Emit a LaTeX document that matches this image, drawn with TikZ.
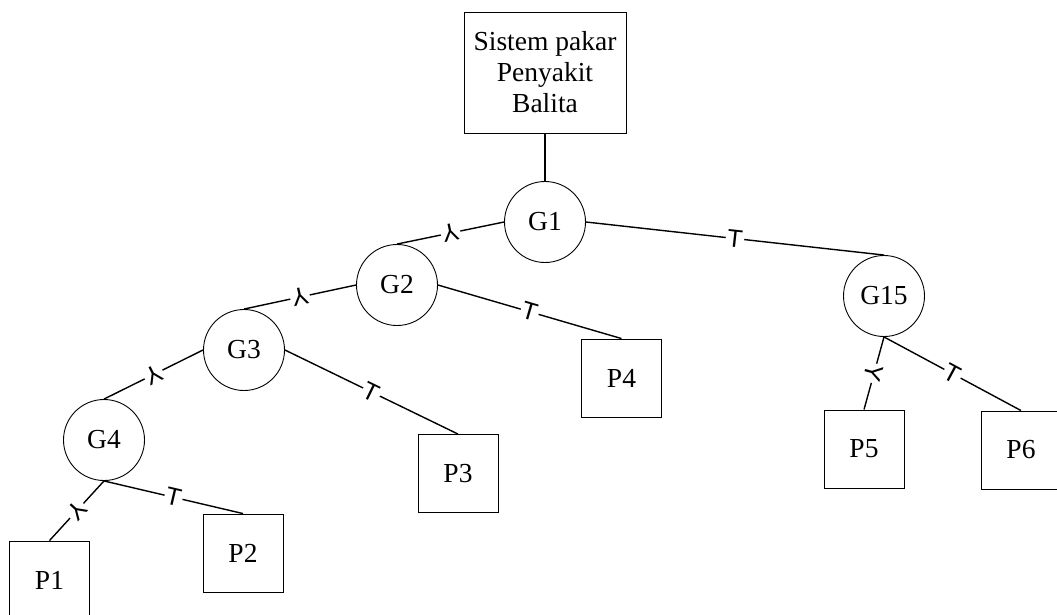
\documentclass[tikz,border=0pt]{standalone}
\usepackage{fontspec}
\setmainfont{Liberation Serif}
\newfontfamily\labelfont{Liberation Sans}
\begin{document}
\begin{tikzpicture}[x=1pt,y=-1pt,
  every node/.style={font=\fontsize{27.5}{31}\selectfont},
  box/.style={draw, line width=0.9pt, minimum width=80pt, minimum height=78pt, inner sep=0pt},
  goal/.style={draw, circle, line width=0.9pt, minimum size=81pt, inner sep=0pt},
  link/.style={line width=1.4pt},
  edgetag/.style={midway, sloped, allow upside down, fill=white, inner sep=1.5pt,
    font=\labelfont\fontsize{25}{25}\selectfont}
]
\useasboundingbox (0,0) rectangle (1057,614);
\clip (0,0) rectangle (1057,614);

% root of the tree
\node[draw, line width=0.9pt, minimum width=162pt, minimum height=121pt, align=center, inner sep=0pt]
  (root) at (545,72.5) {Sistem pakar\\Penyakit\\Balita};

% question nodes
\node[goal] (g1) at (545,222) {G1};
\node[goal] (g2) at (397,285) {G2};
\node[goal] (g3) at (244,350) {G3};
\node[goal] (g4) at (104,440) {G4};
\node[goal] (g15) at (884,296) {G15};

% conclusions
\node[box] (p1) at (49.5,580) {P1};
\node[box] (p2) at (243,553) {P2};
\node[box] (p3) at (458,473.5) {P3};
\node[box] (p4) at (621.5,378) {P4};
\node[box] (p5) at (864,449) {P5};
\node[box] (p6) at (1021,450) {P6};

% branches, Y = yes, T = no
\draw[link] (root.south) -- (g1.north);
\draw[link] (g1.west) -- node[edgetag] {Y} (g2.north);
\draw[link] (g1.east) -- node[edgetag] {T} (g15.north);
\draw[link] (g2.west) -- node[edgetag] {Y} (g3.north);
\draw[link] (g2.east) -- node[edgetag] {T} (p4.north);
\draw[link] (g3.west) -- node[edgetag] {Y} (g4.north);
\draw[link] (g3.east) -- node[edgetag] {T} (p3.north);
\draw[link] (g4.south) -- node[edgetag] {Y} (p1.north);
\draw[link] (g4.south) -- node[edgetag] {T} (p2.north);
\draw[link] (g15.south) -- node[edgetag] {Y} (p5.north);
\draw[link] (g15.south) -- node[edgetag] {T} (p6.north);
\end{tikzpicture}
\end{document}
